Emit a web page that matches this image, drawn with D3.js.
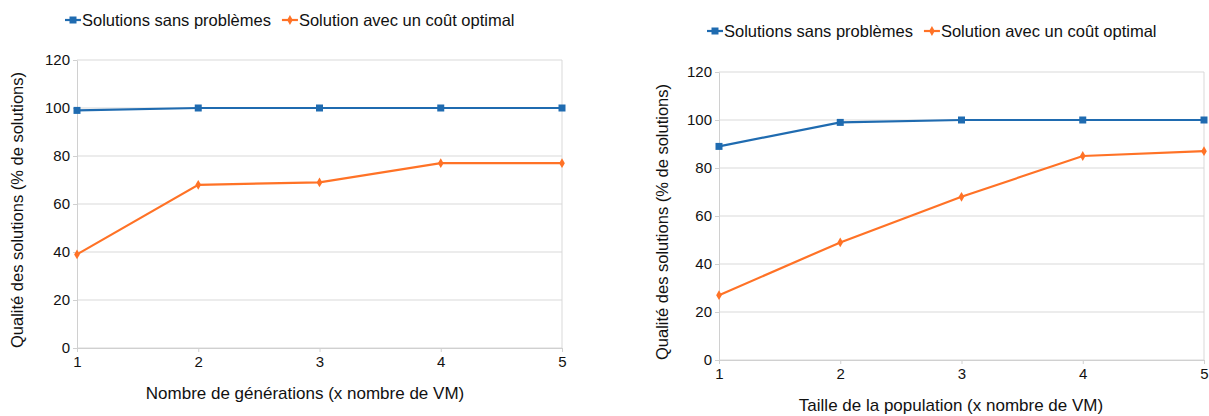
<!DOCTYPE html>
<html>
<head>
<meta charset="utf-8">
<script src="https://cdn.jsdelivr.net/npm/d3@7"></script>
<style>
  body { margin: 0; background: #fff; }
  svg { font-family: "Liberation Sans", Arial, sans-serif; }
  .grid line { stroke: #d9d9d9; }
  .axis path, .axis line { stroke: #d0d0d0; }
  .axis text { fill: #111; font-size: 15px; }
</style>
</head>
<body>
<script>
// categories (x nombre de VM)
const xValues = [1, 2, 3, 4, 5];
const yTicks = [0, 20, 40, 60, 80, 100, 120];

const seriesNames = ['Solutions sans problèmes', 'Solution avec un coût optimal'];

// left chart: nombre de générations
const genSansProblemes = [99, 100, 100, 100, 100];
const genCoutOptimal = [39, 68, 69, 77, 77];

// right chart: taille de la population
const popSansProblemes = [89, 99, 100, 100, 100];
const popCoutOptimal = [27, 49, 68, 85, 87];

const yTitle = 'Qualité des solutions (% de solutions)';

const colors = ['#1f6bb0', '#ff7226'];

const svg = d3.select('body').append('svg')
    .attr('width', 1209)
    .attr('height', 416);

const charts = [
    {
        left: 77, right: 562, top: 60, bottom: 348,
        legendX: 65, legendY: 20,
        yTitleX: 23, xTitleX: 305,
        xTitle: 'Nombre de générations (x nombre de VM)',
        series: [genSansProblemes, genCoutOptimal]
    },
    {
        left: 719, right: 1204, top: 72, bottom: 360,
        legendX: 707, legendY: 31,
        yTitleX: 668, xTitleX: 951,
        xTitle: 'Taille de la population (x nombre de VM)',
        series: [popSansProblemes, popCoutOptimal]
    }
];

charts.forEach(c => {
    const x = d3.scaleLinear().domain([1, 5]).range([c.left, c.right]);
    const y = d3.scaleLinear().domain([0, 120]).range([c.bottom, c.top]);

    const g = svg.append('g');

    // horizontal grid
    g.append('g')
        .attr('class', 'grid')
        .selectAll('line')
        .data(yTicks)
        .join('line')
        .attr('x1', c.left)
        .attr('x2', c.right)
        .attr('y1', d => y(d))
        .attr('y2', d => y(d));

    // right border of plot area
    g.append('line')
        .attr('x1', c.right).attr('x2', c.right)
        .attr('y1', c.top).attr('y2', c.bottom)
        .attr('stroke', '#d9d9d9');

    // axes
    g.append('g')
        .attr('class', 'axis')
        .attr('transform', 'translate(' + c.left + ',0)')
        .call(d3.axisLeft(y).tickValues(yTicks).tickSize(4).tickSizeOuter(0).tickPadding(3));

    g.append('g')
        .attr('class', 'axis')
        .attr('transform', 'translate(0,' + c.bottom + ')')
        .call(d3.axisBottom(x).tickValues(xValues).tickFormat(d3.format('d')).tickSize(4).tickSizeOuter(0).tickPadding(4));

    g.selectAll('.axis .domain').attr('stroke', '#cfcfcf');

    // axis titles
    g.append('text')
        .attr('x', c.xTitleX)
        .attr('y', c.bottom + 51)
        .attr('text-anchor', 'middle')
        .style('font-size', '17px')
        .style('fill', '#111')
        .text(c.xTitle);

    g.append('text')
        .attr('transform', 'translate(' + c.yTitleX + ',' + ((c.top + c.bottom) / 2 + 6) + ') rotate(-90)')
        .attr('text-anchor', 'middle')
        .style('font-size', '16.5px')
        .style('fill', '#111')
        .text(yTitle);

    // lines + markers
    const line = d3.line()
        .x((d, i) => x(xValues[i]))
        .y(d => y(d));

    c.series.forEach((s, si) => {
        g.append('path')
            .datum(s)
            .attr('fill', 'none')
            .attr('stroke', colors[si])
            .attr('stroke-width', 2.2)
            .attr('d', line);

        const sym = d3.symbol()
            .type(si === 0 ? d3.symbolSquare : d3.symbolDiamond)
            .size(si === 0 ? 49 : 28);

        g.selectAll('.m' + si)
            .data(s)
            .join('path')
            .attr('class', 'm' + si)
            .attr('transform', (d, i) => 'translate(' + x(xValues[i]) + ',' + y(d) + ')')
            .attr('d', sym)
            .attr('fill', colors[si]);
    });

    // legend
    const leg = g.append('g').attr('transform', 'translate(' + c.legendX + ',' + c.legendY + ')');
    let offset = 0;
    seriesNames.forEach((name, si) => {
        const item = leg.append('g').attr('transform', 'translate(' + offset + ',0)');
        item.append('line')
            .attr('x1', 0).attr('x2', 16)
            .attr('y1', 0).attr('y2', 0)
            .attr('stroke', colors[si])
            .attr('stroke-width', 2.2);
        item.append('path')
            .attr('transform', 'translate(8,0)')
            .attr('d', d3.symbol().type(si === 0 ? d3.symbolSquare : d3.symbolDiamond).size(si === 0 ? 49 : 28))
            .attr('fill', colors[si]);
        const t = item.append('text')
            .attr('x', 17)
            .attr('y', 6)
            .style('font-size', '16.5px')
            .style('fill', '#111')
            .text(name);
        offset += 17 + t.node().getComputedTextLength() + 11;
    });
});
</script>
</body>
</html>
